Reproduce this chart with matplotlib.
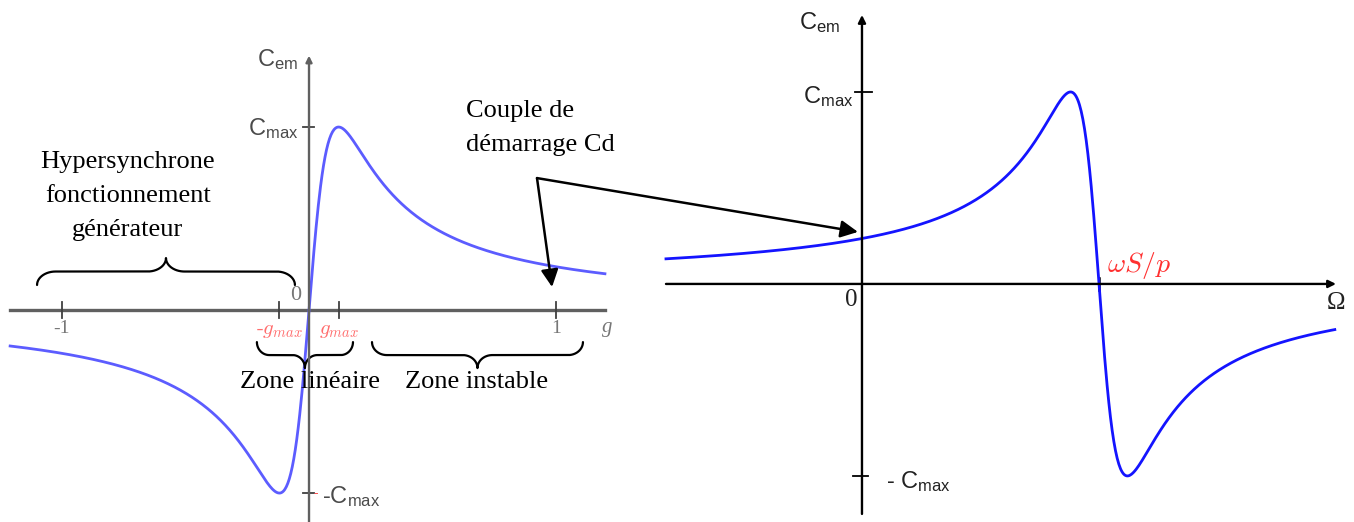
import numpy as np
import matplotlib.pyplot as plt

plt.rcParams['mathtext.fontset'] = 'custom'
plt.rcParams['mathtext.rm'] = 'Liberation Sans'
plt.rcParams['mathtext.it'] = 'Liberation Sans:italic'
plt.rcParams['mathtext.bf'] = 'Liberation Sans:bold'

SERIF = 'Liberation Serif'
SANS = 'Liberation Sans'

# torque / slip characteristic, torque normalised by C_max
C_MAX = 1.0
G_MAX_LEFT = 0.12          # slip at maximum torque (left diagram)
G_MAX_RIGHT = 0.12         # same, right diagram
G_SPAN = (-1.21, 1.198)    # slip range drawn on the left
W_SPAN = (-0.827, 1.995)   # Omega / (omega_s / p) range drawn on the right
G_TICKS = [-1, 1]
G_TICK_LABELS = ['-1', '1']

BLUE_L = '#5c5cff'
BLUE_R = '#1414ff'
GREY = '#606060'


def kloss(g, g_max, c_max=C_MAX):
    return 2 * c_max * g * g_max / (g ** 2 + g_max ** 2)


def brace(ax, x0, x1, y_base, y_tip, r, color='black', lw=1.6):
    # curly brace between x0 and x1, ends at y_base, point at y_tip
    xm = (x0 + x1) / 2
    ym = (y_base + y_tip) / 2
    t = np.linspace(0, np.pi / 2, 40)
    ry1 = ym - y_base
    ry2 = y_tip - ym
    xs = np.concatenate([x0 + r - r * np.cos(t), xm - r + r * np.sin(t)])
    ys = np.concatenate([y_base + ry1 * np.sin(t), y_tip - ry2 * np.cos(t)])
    xs_full = np.concatenate([xs, (2 * xm - xs)[::-1]])
    ys_full = np.concatenate([ys, ys[::-1]])
    ax.plot(xs_full, ys_full, color=color, lw=lw, solid_capstyle='round', clip_on=False)


fig = plt.figure(figsize=(13.54, 5.22), dpi=100)

# ---------------- left: C_em(g) ----------------
ax_l = fig.add_axes([0, 0, 620 / 1354, 1])
ax_l.set_xlim(-1.251, 1.259)
ax_l.set_ylim(-1.158, 1.694)
ax_l.axis('off')

ax_l.plot(list(G_SPAN), [0, 0], color=GREY, lw=2.4, clip_on=False)
ax_l.annotate('', xy=(0, 1.39), xytext=(0, -1.158),
              arrowprops=dict(arrowstyle='-|>', color=GREY, lw=1.7,
                              mutation_scale=9, shrinkA=0, shrinkB=0))

for g in G_TICKS + [-G_MAX_LEFT, G_MAX_LEFT]:
    ax_l.plot([g, g], [-0.045, 0.045], color='#404040', lw=1.3)
for c in [C_MAX, -C_MAX]:
    ax_l.plot([-0.024, 0.022], [c, c], color='#404040', lw=1.3)

for g, lab in zip(G_TICKS, G_TICK_LABELS):
    ax_l.text(g, -0.1, lab, color='#777777', family=SERIF, fontsize=14,
              ha='center', va='center')
ax_l.text(-0.053, 0.077, '0', color='#777777', family=SERIF, fontsize=16,
          ha='center', va='center')
ax_l.text(1.206, -0.098, 'g', color='#777777', family=SERIF, style='italic',
          fontsize=15, ha='center', va='center')
ax_l.text(-G_MAX_LEFT, -0.11, r'$\text{-}g_{max}$', color='#ff6e6e',
          math_fontfamily='cm', fontsize=15, ha='center', va='center')
ax_l.text(G_MAX_LEFT, -0.11, r'$g_{max}$', color='#ff6e6e',
          math_fontfamily='cm', fontsize=15, ha='center', va='center')

ax_l.text(-0.045, 1.37, r'$\mathrm{C}_{\mathrm{em}}$', color='#4a4a4a',
          fontsize=17, ha='right', va='center')
ax_l.text(-0.045, 0.99, r'$\mathrm{C}_{\mathrm{max}}$', color='#4a4a4a',
          fontsize=17, ha='right', va='center')
ax_l.text(0.028, -1.0, '-', color='#ff5050', family=SANS, fontsize=10,
          ha='center', va='center')
ax_l.text(0.052, -1.02, r'$\mathrm{\text{-}C}_{\mathrm{max}}$', color='#4a4a4a',
          fontsize=17, ha='left', va='center')

g = np.linspace(*G_SPAN, 800)
ax_l.plot(g, kloss(g, G_MAX_LEFT), color=BLUE_L, lw=2.0, clip_on=False)

# annotations
brace(ax_l, -1.101, -0.057, 0.137, 0.284, r=0.075)
brace(ax_l, -0.211, 0.178, -0.175, -0.317, r=0.05)
brace(ax_l, 0.255, 1.109, -0.175, -0.317, r=0.06)

ax_l.text(-0.733, 0.623, 'Hypersynchrone\nfonctionnement\ngénérateur',
          family=SERIF, fontsize=19, ha='center', va='center', linespacing=1.7)
ax_l.text(0.004, -0.393, 'Zone linéaire', family=SERIF, fontsize=19,
          ha='center', va='center')
ax_l.text(0.680, -0.393, 'Zone instable', family=SERIF, fontsize=19,
          ha='center', va='center')
ax_l.text(0.636, 0.995, 'Couple de\ndémarrage Cd', family=SERIF, fontsize=19,
          ha='left', va='center', linespacing=1.7)

# ---------------- right: C_em(Omega) ----------------
ax_r = fig.add_axes([620 / 1354, 0, 734 / 1354, 1])
ax_r.set_xlim(-1.021, 2.076)
ax_r.set_ylim(-1.240, 1.479)
ax_r.axis('off')

ax_r.annotate('', xy=(2.0, 0), xytext=(W_SPAN[0], 0),
              arrowprops=dict(arrowstyle='-|>', color='black', lw=1.7,
                              mutation_scale=11, shrinkA=0, shrinkB=0))
ax_r.annotate('', xy=(0, 1.401), xytext=(0, -1.198),
              arrowprops=dict(arrowstyle='-|>', color='black', lw=1.7,
                              mutation_scale=11, shrinkA=0, shrinkB=0))
ax_r.plot([-0.030, 0.042], [C_MAX, C_MAX], color='black', lw=1.3)
ax_r.plot([-0.038, 0.025], [-C_MAX, -C_MAX], color='black', lw=1.3)
ax_r.plot([1, 1], [-0.03, 0.03], color='black', lw=1.8)

ax_r.text(-0.181, 1.36, r'$\mathrm{C}_{\mathrm{em}}$', color='#222222',
          fontsize=17, ha='center', va='center')
ax_r.text(-0.036, 0.975, r'$\mathrm{C}_{\mathrm{max}}$', color='#222222',
          fontsize=17, ha='right', va='center')
ax_r.text(0.101, -1.03, r'$\mathrm{\text{-}\ C}_{\mathrm{max}}$', color='#222222',
          fontsize=17, ha='left', va='center')
ax_r.text(-0.046, -0.083, '0', family=SERIF, fontsize=18, color='#222222',
          ha='center', va='center')
ax_r.text(2.0, -0.099, 'Ω', family=SERIF, fontsize=18, color='#222222',
          ha='center', va='center')
ax_r.text(1.034, 0.094, r'$\omega S/p$', color='#ff3030', math_fontfamily='cm',
          fontsize=20, ha='left', va='center')

w = np.linspace(*W_SPAN, 800)
ax_r.plot(w, kloss(1 - w, G_MAX_RIGHT), color=BLUE_R, lw=2.0, clip_on=False)

# starting torque arrows
arrow = dict(arrowstyle='-|>', color='black', lw=1.8, mutation_scale=26,
             shrinkA=0, shrinkB=0)
ax_l.annotate('', xy=(0.984, 0.126), xytext=(0.923, 0.721),
              arrowprops=arrow, annotation_clip=False)
ax_r.annotate('', xy=(-0.017, 0.271), xytext=(0.923, 0.721),
              textcoords=ax_l.transData, arrowprops=arrow,
              annotation_clip=False)

fig.savefig('out.png', dpi=100)
